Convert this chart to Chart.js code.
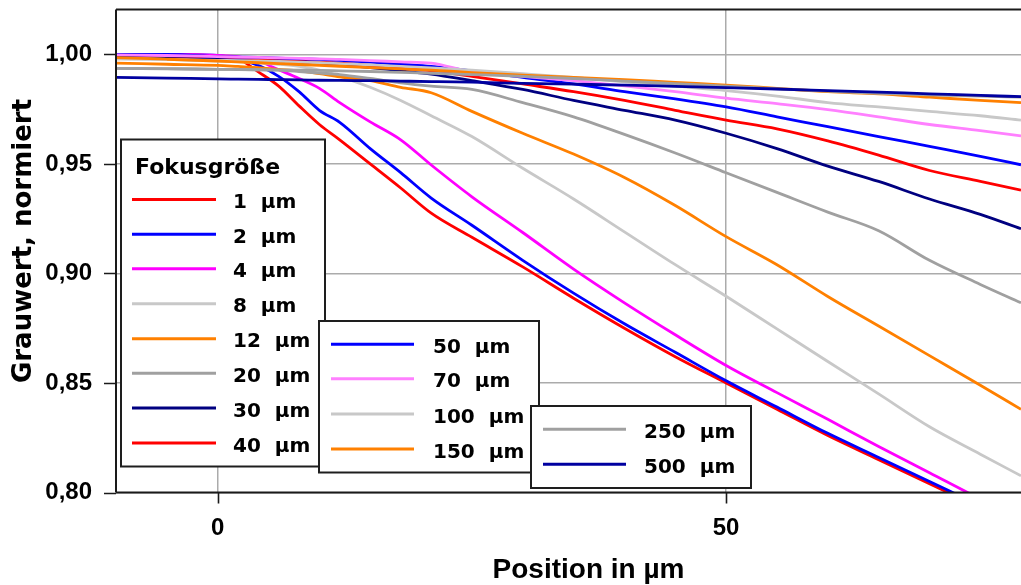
<!DOCTYPE html>
<html>
<head>
<meta charset="utf-8">
<script src="https://cdn.jsdelivr.net/npm/chart.js@4.4.1/dist/chart.umd.min.js"></script>
<style>
html,body{margin:0;padding:0;background:#fff;}
#wrap{width:1021px;height:585px;position:relative;}
</style>
</head>
<body>
<div id="wrap"><canvas id="c"></canvas></div>
<script>
// ---- data ----
const positionUm = [-10,-5,0,2,4,6,8,10,12,15,18,21,25,30,35,40,45,50,55,60,65,70,75,79];

const focusLabels = ['1  µm','2  µm','4  µm','8  µm','12  µm','20  µm','30  µm','40  µm',
                     '50  µm','70  µm','100  µm','150  µm','250  µm','500  µm'];

const g1   = [1.000,1.000,0.9992,0.998,0.992,0.9855,0.9765,0.968,0.961,0.950,0.939,0.9275,0.9165,0.903,0.8887,0.875,0.862,0.850,0.838,0.826,0.815,0.804,0.793,0.784];
const g2   = [1.000,1.000,0.9995,0.998,0.995,0.990,0.983,0.9745,0.969,0.957,0.946,0.9344,0.922,0.906,0.891,0.877,0.864,0.851,0.839,0.827,0.816,0.805,0.794,0.785];
const g4   = [1.000,1.000,0.9995,0.999,0.997,0.993,0.989,0.9845,0.978,0.9692,0.961,0.9495,0.935,0.9187,0.902,0.8866,0.872,0.858,0.8456,0.8334,0.821,0.809,0.797,0.788];
const g8   = [0.998,0.9977,0.997,0.9966,0.9962,0.9955,0.9945,0.9928,0.990,0.985,0.979,0.972,0.9625,0.948,0.934,0.919,0.904,0.8896,0.8747,0.8598,0.845,0.830,0.8175,0.8076];
const g12  = [0.9960,0.9955,0.995,0.9945,0.994,0.9932,0.9925,0.9912,0.9898,0.988,0.985,0.9825,0.974,0.964,0.9545,0.9438,0.931,0.9168,0.904,0.8895,0.876,0.8625,0.849,0.838];
const g20  = [0.9936,0.9935,0.9932,0.9931,0.993,0.9928,0.9922,0.9915,0.9908,0.989,0.987,0.9855,0.984,0.978,0.9715,0.9635,0.955,0.946,0.937,0.928,0.9195,0.906,0.895,0.8866];
const g30  = [0.9995,0.999,0.998,0.9977,0.9974,0.997,0.9965,0.996,0.9953,0.994,0.9925,0.991,0.988,0.984,0.979,0.9745,0.970,0.964,0.957,0.949,0.942,0.934,0.927,0.9204];
const g40  = [1.000,0.9995,0.999,0.9985,0.998,0.9975,0.997,0.9965,0.996,0.995,0.9937,0.9925,0.990,0.9865,0.983,0.979,0.9745,0.970,0.966,0.9605,0.954,0.947,0.942,0.938];
const g50  = [1.000,1.000,0.999,0.9988,0.9986,0.9983,0.998,0.9977,0.9973,0.9965,0.9955,0.9945,0.9925,0.9895,0.9865,0.983,0.9797,0.976,0.9715,0.967,0.9625,0.958,0.9535,0.9496];
const g70  = [0.9998,0.9995,0.999,0.9988,0.9986,0.9984,0.9982,0.998,0.9977,0.9972,0.9966,0.996,0.992,0.990,0.988,0.9856,0.983,0.980,0.9775,0.9748,0.9715,0.968,0.9652,0.9628];
const g100 = [0.998,0.9977,0.9973,0.9972,0.997,0.9968,0.9965,0.9962,0.9958,0.9952,0.9945,0.9938,0.9928,0.9912,0.9895,0.9875,0.9855,0.9835,0.981,0.978,0.976,0.974,0.972,0.970];
const g150 = [0.9985,0.9978,0.997,0.9966,0.9962,0.9958,0.9954,0.995,0.9946,0.994,0.9934,0.9928,0.9917,0.9905,0.9895,0.9885,0.9872,0.986,0.9845,0.983,0.982,0.9805,0.979,0.978];
const g250 = [0.9936,0.9934,0.9932,0.9931,0.993,0.9929,0.9928,0.9927,0.9925,0.9922,0.9918,0.9914,0.9908,0.990,0.989,0.9878,0.9866,0.9855,0.9843,0.9832,0.9822,0.9815,0.981,0.9805];
const g500 = [0.9895,0.9892,0.9888,0.9887,0.9886,0.9885,0.9884,0.9882,0.9881,0.988,0.9878,0.9876,0.9873,0.9868,0.9864,0.986,0.9854,0.9848,0.9842,0.9835,0.9828,0.982,0.9813,0.9807];

const seriesValues = [g1,g2,g4,g8,g12,g20,g30,g40,g50,g70,g100,g150,g250,g500];

const xLabeledTicks = [0, 50];
const yLabeledTicks = [0.80, 0.85, 0.90, 0.95, 1.00];

const legendGroups = [[0,1,2,3,4,5,6,7],[8,9,10,11],[12,13]];
const legendTitle = 'Fokusgröße';
const xTitle = 'Position in µm';
const yTitle = 'Grauwert, normiert';

// ---- styles ----
const lineColors = ['#ff0000','#0000ff','#ff00ff','#c8c8c8','#ff8000','#a0a0a0','#000080','#ff0000',
                    '#0000ff','#ff80ff','#c8c8c8','#ff8000','#a0a0a0','#0000a0'];

const datasets = seriesValues.map((vals, i) => ({
  label: focusLabels[i],
  data: positionUm.map((x, k) => ({x: x, y: vals[k]})),
  borderColor: lineColors[i],
  backgroundColor: lineColors[i],
  borderWidth: 2.8,
  pointRadius: 0,
  fill: false,
  cubicInterpolationMode: 'monotone',
  order: seriesValues.length - i
}));

const near = (a, b) => Math.abs(a - b) < 1e-6;

const decorPlugin = {
  id: 'decor',
  afterDatasetsDraw(chart) {
    const ctx = chart.ctx;
    const boxes = [
      {rect: [121, 139.5, 204, 327], lineX: [132, 216], textX: 233, rows: [199.4,234.3,268.8,303.7,338.7,373.2,408,443], titleY: 173.5},
      {rect: [319, 321, 220, 151.5], lineX: [331, 414], textX: 433, rows: [344.3,378.7,414,449]},
      {rect: [531, 406, 220, 82], lineX: [543, 626], textX: 644, rows: [429.3,464.3]}
    ];
    ctx.save();
    boxes.forEach((b, gi) => {
      ctx.fillStyle = '#ffffff';
      ctx.fillRect(b.rect[0], b.rect[1], b.rect[2], b.rect[3]);
      ctx.strokeStyle = '#1e1e1e';
      ctx.lineWidth = 2;
      ctx.strokeRect(b.rect[0], b.rect[1], b.rect[2], b.rect[3]);
      if (b.titleY) {
        ctx.fillStyle = '#000';
        ctx.font = "bold 22px 'DejaVu Sans'";
        ctx.textAlign = 'left';
        ctx.textBaseline = 'alphabetic';
        ctx.fillText(legendTitle, 135, b.titleY);
      }
      legendGroups[gi].forEach((di, r) => {
        const ds = chart.data.datasets[di];
        const y = b.rows[r];
        ctx.strokeStyle = ds.borderColor;
        ctx.lineWidth = 3;
        ctx.beginPath();
        ctx.moveTo(b.lineX[0], y);
        ctx.lineTo(b.lineX[1], y);
        ctx.stroke();
        ctx.fillStyle = '#000';
        ctx.font = "bold 20px 'DejaVu Sans'";
        ctx.textAlign = 'left';
        ctx.textBaseline = 'alphabetic';
        ctx.fillText(ds.label, b.textX, y + 8.5);
      });
    });
    ctx.restore();
  },
  afterDraw(chart) {
    const ctx = chart.ctx;
    const a = chart.chartArea;
    const xs = chart.scales.x, ys = chart.scales.y;
    ctx.save();
    ctx.strokeStyle = '#1a1a1a';
    ctx.lineWidth = 2;
    ctx.beginPath();
    ctx.moveTo(a.left, a.top); ctx.lineTo(a.right, a.top);
    ctx.moveTo(a.left, a.top); ctx.lineTo(a.left, a.bottom);
    ctx.moveTo(a.left, a.bottom); ctx.lineTo(a.right, a.bottom);
    ctx.stroke();
    ctx.lineWidth = 1.6;
    ctx.beginPath();
    xs.ticks.forEach(t => {
      const v = t.value;
      if (v <= xs.min || v >= xs.max) return;
      const px = Math.round(xs.getPixelForValue(v)) + 0.5;
      const major = xLabeledTicks.some(m => near(m, v));
      ctx.moveTo(px, a.bottom);
      ctx.lineTo(px, a.bottom + (major ? 11 : 7));
    });
    ys.ticks.forEach(t => {
      const v = t.value;
      if (v > 1.015) return;
      const py = Math.round(ys.getPixelForValue(v)) + 0.5;
      const major = yLabeledTicks.some(m => near(m, v));
      ctx.moveTo(a.left - (major ? 12 : 7), py);
      ctx.lineTo(a.left, py);
    });
    ctx.stroke();
    // axis titles
    ctx.fillStyle = '#000';
    ctx.textAlign = 'center';
    ctx.textBaseline = 'alphabetic';
    ctx.font = "bold 28px 'Liberation Sans', Arial, sans-serif";
    ctx.fillText(xTitle, 588.5, 578);
    ctx.save();
    ctx.translate(31, 241);
    ctx.rotate(-Math.PI / 2);
    ctx.font = "bold 26px 'DejaVu Sans'";
    ctx.fillText(yTitle, 0, 0);
    ctx.restore();
    ctx.restore();
  }
};

const tickFont = {family: "'Liberation Sans', Arial, sans-serif", size: 24, weight: 'bold'};

new Chart(document.getElementById('c'), {
  type: 'line',
  data: {datasets: datasets},
  options: {
    responsive: true,
    maintainAspectRatio: false,
    animation: false,
    layout: {padding: {top: 9.5, right: 0, left: 0, bottom: 0}},
    plugins: {legend: {display: false}, tooltip: {enabled: false}},
    scales: {
      x: {
        type: 'linear',
        min: -10, max: 79,
        afterFit: s => { s.height = 92.5; s.paddingLeft = 0; s.paddingRight = 0; s.paddingTop = 0; s.paddingBottom = 0; },
        grid: {
          drawTicks: false,
          lineWidth: 1.5,
          color: c => (c.tick && xLabeledTicks.some(m => near(m, c.tick.value))) ? '#ababab' : 'rgba(0,0,0,0)'
        },
        border: {display: false},
        ticks: {
          stepSize: 10, includeBounds: false, autoSkip: false, maxRotation: 0,
          padding: 21, color: '#000', font: tickFont,
          callback: v => { const m = xLabeledTicks.find(t => near(t, v)); return m === undefined ? null : String(m); }
        }
      },
      y: {
        min: 0.80, max: 1.0205,
        afterFit: s => { s.width = 116; s.paddingLeft = 0; s.paddingRight = 0; s.paddingTop = 0; s.paddingBottom = 0; },
        grid: {
          drawTicks: false,
          lineWidth: 1.5,
          color: c => (c.tick && yLabeledTicks.some(m => near(m, c.tick.value))) ? '#ababab' : 'rgba(0,0,0,0)'
        },
        border: {display: false},
        ticks: {
          stepSize: 0.01, includeBounds: false, autoSkip: false,
          padding: 24, color: '#000', font: tickFont,
          callback: v => { const m = yLabeledTicks.find(t => near(t, v)); return m === undefined ? null : m.toFixed(2).replace('.', ','); }
        }
      }
    }
  },
  plugins: [decorPlugin]
});
</script>
</body>
</html>
